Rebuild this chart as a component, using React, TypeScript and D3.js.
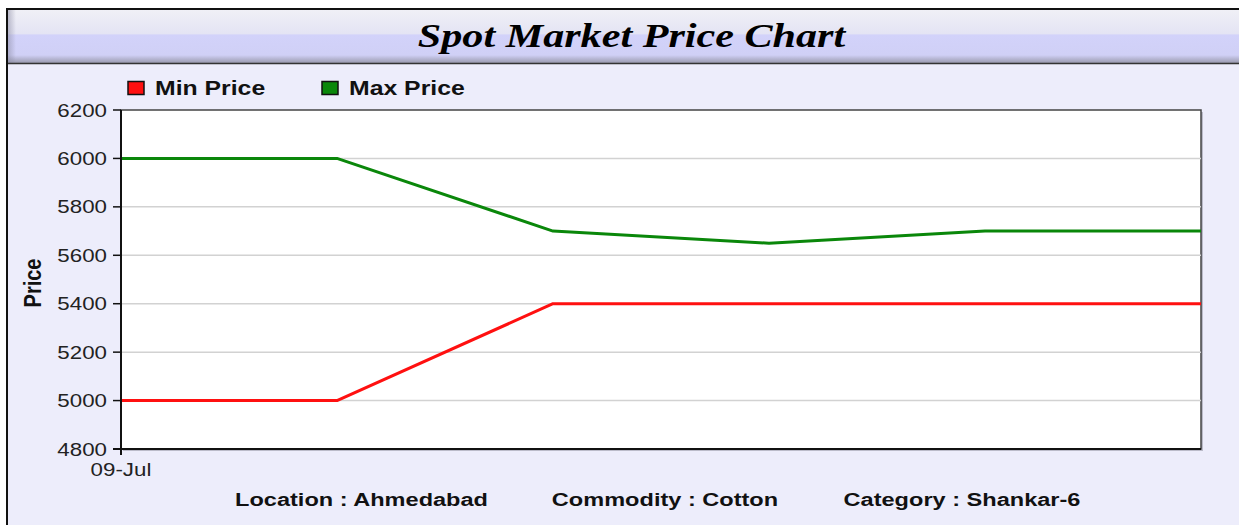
import React from "react";
import * as d3 from "d3";

const points = [0, 1, 2, 3, 4, 5];
const xTickLabels = ["09-Jul"];
const minPrice = [5000, 5000, 5400, 5400, 5400, 5400];
const maxPrice = [6000, 6000, 5700, 5650, 5700, 5700];
const yTicks = [4800, 5000, 5200, 5400, 5600, 5800, 6000, 6200];
const seriesNames = ["Min Price", "Max Price"];
const seriesColors = ["#ff1010", "#0a870a"];
const footerTexts = ["Location : Ahmedabad", "Commodity : Cotton", "Category : Shankar-6"];
const footerCenters = [361.5, 665, 962];

const W = 1239;
const H = 525;
const SX = 1.24;
const plot = { left: 121, top: 110, right: 1201, bottom: 449 };

function SText(props: { x: number; y: number; anchor?: string; size: number; weight?: string; family?: string; style?: string; fill?: string; rotate?: number; children: React.ReactNode }) {
  const { x, y, anchor = "start", size, weight = "normal", family = "'Liberation Sans', Arial, sans-serif", style = "normal", fill = "#111", rotate = 0, children } = props;
  return (
    <g transform={`translate(${x},${y}) scale(${SX},1) rotate(${rotate})`}>
      <text x={0} y={0} textAnchor={anchor as any} fontSize={size} fontWeight={weight} fontFamily={family} fontStyle={style} fill={fill}>
        {children}
      </text>
    </g>
  );
}

export default function App() {
  const x = d3.scalePoint<number>().domain(points).range([plot.left, plot.right]);
  const y = d3.scaleLinear().domain([4800, 6200]).range([plot.bottom, plot.top]);
  const line = d3
    .line<number>()
    .x((_, i) => x(points[i]) as number)
    .y((d) => y(d));
  const series = [minPrice, maxPrice];

  return (
    <div style={{ position: "absolute", left: 0, top: 0 }}>
      <svg width={W} height={H} style={{ display: "block" }}>
        <defs>
          <linearGradient id="titleGrad" x1="0" y1="0" x2="0" y2="1">
            <stop offset="0" stopColor="#f0f0f6" />
            <stop offset="0.45" stopColor="#e4e4f4" />
            <stop offset="0.47" stopColor="#d2d2fa" />
            <stop offset="0.85" stopColor="#d0d0f6" />
            <stop offset="1" stopColor="#9a9aae" />
          </linearGradient>
          <linearGradient id="bevel" x1="0" y1="0" x2="1" y2="0">
            <stop offset="0" stopColor="#8888a0" stopOpacity={0.5} />
            <stop offset="1" stopColor="#8888a0" stopOpacity={0} />
          </linearGradient>
        </defs>
        <rect x={0} y={0} width={W} height={H} fill="#ffffff" />
        <rect x={7} y={9} width={W + 20} height={H + 20} fill="#ededfb" stroke="#111" strokeWidth={2} />
        <rect x={8} y={10} width={W} height={53} fill="url(#titleGrad)" />
        <rect x={8} y={10} width={8} height={53} fill="url(#bevel)" />
        <line x1={8} x2={W} y1={63.5} y2={63.5} stroke="#333" strokeWidth={1.5} />
        <SText x={631.5} y={47} anchor="middle" size={34} weight="bold" style="italic" family="'Liberation Serif', 'Times New Roman', serif" fill="#000">
          Spot Market Price Chart
        </SText>

        {/* legend */}
        {seriesNames.map((n, i) => {
          const lx = [128, 322][i];
          return (
            <g key={n}>
              <rect x={lx} y={81.5} width={16} height={13} fill={seriesColors[i]} stroke="#111" strokeWidth={1.5} />
              <SText x={lx + 27} y={95} size={20} weight="bold" fill="#111">
                {n}
              </SText>
            </g>
          );
        })}

        {/* plot area */}
        <rect x={plot.left + 2} y={plot.top + 2} width={plot.right - plot.left} height={plot.bottom - plot.top} fill="#9a9aa8" opacity={0.6} />
        <rect x={plot.left} y={plot.top} width={plot.right - plot.left} height={plot.bottom - plot.top} fill="#ffffff" stroke="#444" strokeWidth={1.5} />
        {yTicks
          .filter((t) => t !== 4800 && t !== 6200)
          .map((t) => (
            <line key={t} x1={plot.left} x2={plot.right} y1={y(t)} y2={y(t)} stroke="#d2d2d2" strokeWidth={1.5} />
          ))}

        {series.map((s, i) => (
          <path key={i} d={line(s) || ""} fill="none" stroke={seriesColors[i]} strokeWidth={3} strokeLinejoin="round" />
        ))}

        {/* axes */}
        <line x1={plot.left} x2={plot.left} y1={plot.top} y2={plot.bottom + 6} stroke="#111" strokeWidth={2} />
        <line x1={plot.left - 8} x2={plot.right} y1={plot.bottom} y2={plot.bottom} stroke="#111" strokeWidth={2} />
        {yTicks.map((t) => (
          <g key={t}>
            <line x1={plot.left - 8} x2={plot.left} y1={y(t)} y2={y(t)} stroke="#111" strokeWidth={1.5} />
            <SText x={plot.left - 14} y={y(t) + 6.5} anchor="end" size={18} fill="#222">
              {t}
            </SText>
          </g>
        ))}
        {xTickLabels.map((l, i) => (
          <SText key={l} x={x(points[i]) as number} y={476} anchor="middle" size={18} fill="#222">
            {l}
          </SText>
        ))}
        <SText x={41} y={283} anchor="middle" size={20} weight="bold" rotate={-90} fill="#111">
          Price
        </SText>

        {footerTexts.map((t, i) => (
          <SText key={t} x={footerCenters[i]} y={506} anchor="middle" size={19} weight="bold" fill="#111">
            {t}
          </SText>
        ))}
      </svg>
    </div>
  );
}
